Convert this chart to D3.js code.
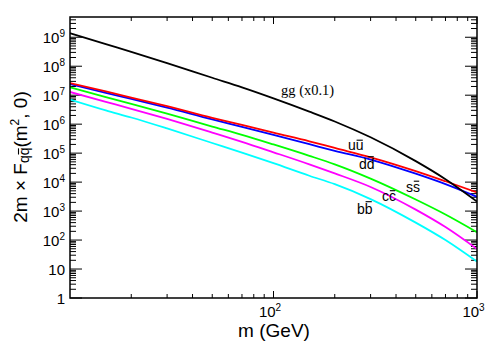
<!DOCTYPE html>
<html>
<head>
<meta charset="utf-8">
<script src="https://cdn.jsdelivr.net/npm/d3@7"></script>
<style>
  body { margin: 0; background: #fff; }
  svg { display: block; }
  text { font-family: "Liberation Sans", Arial, sans-serif; fill: #000; }
  .serif { font-family: "Liberation Serif", "Times New Roman", serif; }
</style>
</head>
<body>
<svg id="chart"></svg>
<script>
// Sizes
const width = 498;
const height = 343;
const margin = { top: 17, right: 21, bottom: 45, left: 70 };

// Data
const masses = [10, 15, 20, 30, 50, 70, 100, 150, 200, 300, 500, 700, 1000];
const ggValues = [1.38e9, 5.75e8, 3.13e8, 1.29e8, 4.0e7, 1.87e7, 7.8e6, 2.72e6, 1.24e6, 3.52e5, 5.3e4, 1.26e4, 2.14e3];
const uuValues = [2.63e7, 1.35e7, 8.3e6, 4.17e6, 1.66e6, 9.5e5, 5.1e5, 2.57e5, 1.51e5, 7.2e4, 2.4e4, 1.07e4, 4.4e3];
const ddValues = [2.4e7, 1.2e7, 7.4e6, 3.7e6, 1.45e6, 8.1e5, 4.3e5, 2.04e5, 1.2e5, 6.0e4, 1.95e4, 8.5e3, 3.1e3];
const ssValues = [1.86e7, 8.5e6, 5.0e6, 2.3e6, 8.3e5, 4.3e5, 2.0e5, 8.1e4, 4.1e4, 1.32e4, 2.5e3, 760, 186];
const ccValues = [1.29e7, 5.9e6, 3.4e6, 1.51e6, 5.1e5, 2.45e5, 1.07e5, 4.1e4, 2.0e4, 6.8e3, 1.12e3, 280, 49];
const bbValues = [7.1e6, 3.0e6, 1.7e6, 7.1e5, 2.24e5, 1.05e5, 4.5e4, 1.66e4, 8.5e3, 2.6e3, 400, 100, 18];

const yMajorExps = [0, 1, 2, 3, 4, 5, 6, 7, 8, 9];
const xMajorTicks = [100, 1000];

const series = [
  { name: "bb", values: bbValues, color: "#00ffff" },
  { name: "cc", values: ccValues, color: "#ff00ff" },
  { name: "ss", values: ssValues, color: "#00ff00" },
  { name: "dd", values: ddValues, color: "#0000ff" },
  { name: "uu", values: uuValues, color: "#ff0000" },
  { name: "gg", values: ggValues, color: "#000000" }
];

const svg = d3.select("#chart")
  .attr("width", width)
  .attr("height", height);

const x = d3.scaleLog()
  .domain([10, 1000])
  .range([margin.left, width - margin.right]);

const y = d3.scaleLog()
  .domain([1, 5e9])
  .range([height - margin.bottom, margin.top]);

const x0 = x.range()[0], x1 = x.range()[1];
const y0 = y.range()[0], y1 = y.range()[1];

// minor ticks
const yMinor = [];
for (let e = 0; e <= 9; e++) {
  for (let k = 2; k <= 9; k++) {
    const v = k * Math.pow(10, e);
    if (v < 5e9) yMinor.push(v);
  }
}
const xMinor = [];
[10, 100].forEach(d => { for (let k = 2; k <= 9; k++) xMinor.push(k * d); });

const ticks = svg.append("g")
  .attr("stroke", "#000")
  .attr("stroke-width", 1);

// y ticks, left and right
ticks.selectAll(".ymin")
  .data(yMinor)
  .enter().append("path")
  .attr("d", d => `M${x0},${y(d)}h6M${x1},${y(d)}h-6`);

ticks.selectAll(".ymaj")
  .data(yMajorExps)
  .enter().append("path")
  .attr("d", e => `M${x0},${y(Math.pow(10, e))}h12M${x1},${y(Math.pow(10, e))}h-12`);

// x ticks, bottom and top
ticks.selectAll(".xmin")
  .data(xMinor)
  .enter().append("path")
  .attr("d", d => `M${x(d)},${y0}v-4M${x(d)},${y1}v4`);

ticks.selectAll(".xmaj")
  .data(xMajorTicks)
  .enter().append("path")
  .attr("d", d => `M${x(d)},${y0}v-7M${x(d)},${y1}v7`);

// curves
const line = d3.line()
  .x(d => x(d[0]))
  .y(d => y(d[1]))
  .curve(d3.curveMonotoneX);

svg.append("clipPath").attr("id", "clip")
  .append("rect")
  .attr("x", x0).attr("y", y1)
  .attr("width", x1 - x0).attr("height", y0 - y1);

svg.append("g")
  .attr("clip-path", "url(#clip)")
  .selectAll("path")
  .data(series)
  .enter().append("path")
  .attr("fill", "none")
  .attr("stroke", d => d.color)
  .attr("stroke-width", 1.8)
  .attr("d", d => line(masses.map((m, i) => [m, d.values[i]])));

// frame
svg.append("rect")
  .attr("x", x0).attr("y", y1)
  .attr("width", x1 - x0).attr("height", y0 - y1)
  .attr("fill", "none")
  .attr("stroke", "#000")
  .attr("stroke-width", 1.5);

// y tick labels
const yLab = svg.append("g").attr("font-size", 15).attr("text-anchor", "end");
yMajorExps.forEach(e => {
  const t = yLab.append("text")
    .attr("x", x0 - 5)
    .attr("y", y(Math.pow(10, e)) + 5.5);
  if (e === 0) t.text("1");
  else if (e === 1) t.text("10");
  else {
    t.append("tspan").text("10");
    t.append("tspan").attr("font-size", 10).attr("dy", -6).text(e);
  }
});

// x tick labels
const xLab = svg.append("g").attr("font-size", 15).attr("text-anchor", "middle");
xMajorTicks.forEach(d => {
  const t = xLab.append("text")
    .attr("x", x(d) - 3.5)
    .attr("y", y0 + 18.5);
  t.append("tspan").text("10");
  t.append("tspan").attr("font-size", 10).attr("dy", -6).text(Math.round(Math.log10(d)));
});

// draws a bar over character i of a text element
function overline(g, textEl, i, dy) {
  const box = textEl.node().getExtentOfChar(i);
  const by = +textEl.attr("y") || 0;
  g.append("line")
    .attr("x1", box.x + 0.8)
    .attr("x2", box.x + box.width - 0.8)
    .attr("y1", by + dy)
    .attr("y2", by + dy)
    .attr("stroke", "#000")
    .attr("stroke-width", 1.1);
}

// axis titles
svg.append("text")
  .attr("x", 274)
  .attr("y", 336.5)
  .attr("text-anchor", "middle")
  .attr("font-size", 19)
  .text("m (GeV)");

const ytG = svg.append("g")
  .attr("transform", "translate(27,157) rotate(-90)");
const yt = ytG.append("text")
  .attr("text-anchor", "middle")
  .attr("font-size", 19);
yt.append("tspan").text("2m \u00d7 F");
yt.append("tspan").attr("font-size", 14).attr("dy", 2).text("qq");
yt.append("tspan").attr("dy", -2).text("(m");
yt.append("tspan").attr("font-size", 12).attr("dy", -8).text("2");
yt.append("tspan").attr("dy", 8).text(", 0)");
overline(ytG, yt, 7, -8.5);

// curve labels
svg.append("text")
  .attr("class", "serif")
  .attr("x", 281)
  .attr("y", 95)
  .attr("font-size", 14.5)
  .text("gg (x0.1)");

const pairLabels = [
  { a: "u", x: 348, y: 150, bar: -9.8 },
  { a: "d", x: 359, y: 169, bar: -12.3 },
  { a: "s", x: 406, y: 191.5, bar: -10.3 },
  { a: "c", x: 382, y: 201, bar: -10.3 },
  { a: "b", x: 357, y: 214, bar: -12.3 }
];
const pairG = svg.append("g");
pairLabels.forEach(p => {
  const t = pairG.append("text")
    .attr("x", p.x)
    .attr("y", p.y)
    .attr("font-size", 14)
    .text(p.a + p.a);
  overline(pairG, t, 1, p.bar);
});
</script>
</body>
</html>
